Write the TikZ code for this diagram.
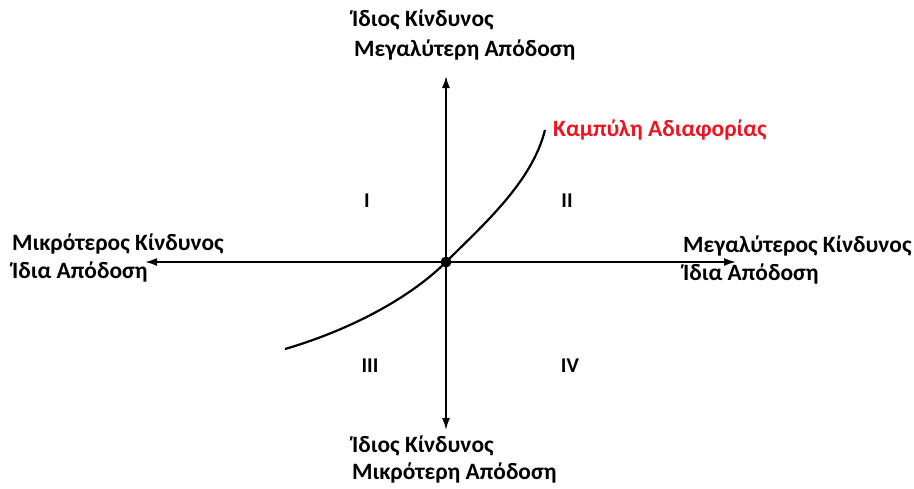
\documentclass[tikz,border=0pt]{standalone}
\usepackage{fontspec}
\setmainfont{Carlito}
\usetikzlibrary{arrows.meta}
\definecolor{curvered}{RGB}{240,20,30}
\begin{document}
\begin{tikzpicture}[x=1pt,y=-1pt,
  lbl/.style={font=\bfseries\fontsize{23.4}{23.4}\selectfont, inner sep=0pt, anchor=west},
  roman/.style={font=\bfseries\fontsize{21}{21}\selectfont, inner sep=0pt},
  axis/.style={line width=1.8pt, -{Latex[length=12pt,width=8pt]}},
  curveline/.style={line width=2.2pt},
  dotc/.style={circle, fill=black, inner sep=0pt, minimum size=11pt}]
\useasboundingbox (0,0) rectangle (914,488);
\node[dotc] (O) at (446,262) {};
\coordinate (T) at (446,76);
\coordinate (B) at (446,430);
\coordinate (L) at (145,262);
\coordinate (R) at (736,262);
\draw[axis] (O.center) -- (T);
\draw[axis] (O.center) -- (B);
\draw[axis] (O.center) -- (L);
\draw[axis] (O.center) -- (R);
\coordinate (C0) at (285,349);
\coordinate (C1) at (545,130);
\draw[curveline] (C0) .. controls (350,330) and (410,298) .. (O.center) .. controls (484,224) and (532,182) .. (C1);
\node[lbl] (t1) at (352,20) {Ίδιος Κίνδυνος};
\node[lbl] (t2) at (354,50) {Μεγαλύτερη Απόδοση};
\node[lbl] (b1) at (352,446) {Ίδιος Κίνδυνος};
\node[lbl] (b2) at (352,473) {Μικρότερη Απόδοση};
\node[lbl] (l1) at (12,244) {Μικρότερος Κίνδυνος};
\node[lbl] (l2) at (12,272) {Ίδια Απόδοση};
\node[lbl] (r1) at (683,246) {Μεγαλύτερος Κίνδυνος};
\node[lbl] (r2) at (683,274) {Ίδια Απόδοση};
\node[lbl, text=curvered] (cl) at (553,130) {Καμπύλη Αδιαφορίας};
\node[roman] (q1) at (367,201) {I};
\node[roman] (q2) at (567,201) {II};
\node[roman] (q3) at (370,366) {III};
\node[roman] (q4) at (570,366) {IV};
\end{tikzpicture}
\end{document}
